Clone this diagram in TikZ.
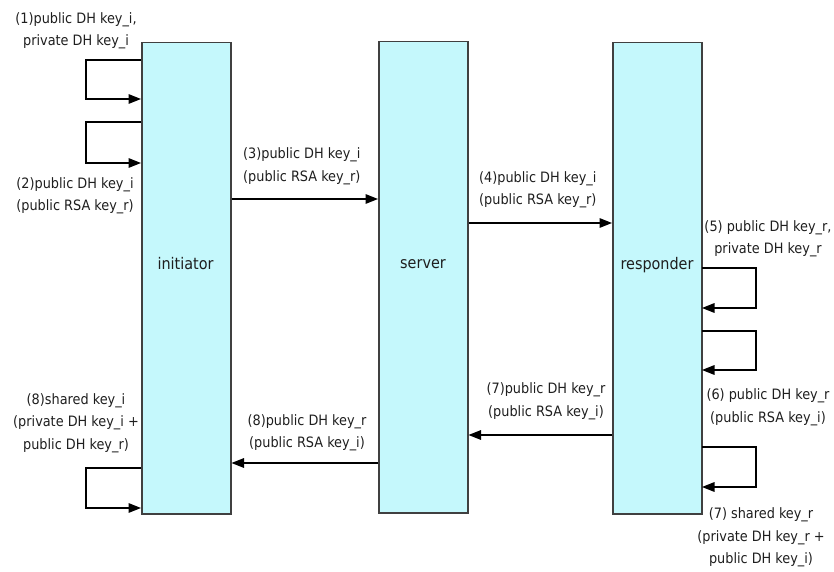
\documentclass[tikz,border=0pt]{standalone}
\usepackage{fontspec}
\setmainfont{DejaVu Sans Condensed}
\usetikzlibrary{arrows.meta}
\definecolor{boxfill}{HTML}{C5F8FC}
\definecolor{boxline}{HTML}{404040}
\definecolor{txt}{HTML}{1E1E1E}
\begin{document}
\begin{tikzpicture}[x=1pt,y=-1pt,
  actor/.style={draw=boxline,line width=1.5pt,fill=boxfill,minimum width=89pt,minimum height=471pt,inner sep=0pt,anchor=north west},
  actlbl/.style={text=txt,font=\fontsize{16}{18}\selectfont,inner sep=0pt},
  lbl/.style={font=\fontsize{14.3}{22.5}\selectfont,text=txt,align=center,inner sep=0pt},
  msg/.style={draw=black,line width=1.5pt,-{Triangle[length=12.5pt,width=9.5pt]}}]
\useasboundingbox (0,0) rectangle (834,572);
% boxes
\node[actor] (ini) at (141,42) {};
\node[actor] (srv) at (378,41) {};
\node[actor] (rsp) at (612,42) {};
\node[actlbl] (iniL) at (185.5,264) {initiator};
\node[actlbl] (srvL) at (423,264) {server};
\node[actlbl] (rspL) at (657,265) {responder};
% initiator loops
\coordinate (a1) at (141,60); \coordinate (a2) at (86,60); \coordinate (a3) at (86,99); \coordinate (a4) at (141,99);
\draw[msg] (a1) -- (a2) -- (a3) -- (a4);
\coordinate (b1) at (141,122); \coordinate (b2) at (86,122); \coordinate (b3) at (86,163); \coordinate (b4) at (141,163);
\draw[msg] (b1) -- (b2) -- (b3) -- (b4);
\coordinate (c1) at (141,468); \coordinate (c2) at (86,468); \coordinate (c3) at (86,508); \coordinate (c4) at (141,508);
\draw[msg] (c1) -- (c2) -- (c3) -- (c4);
% responder loops
\coordinate (d1) at (702,268); \coordinate (d2) at (756,268); \coordinate (d3) at (756,308); \coordinate (d4) at (702,308);
\draw[msg] (d1) -- (d2) -- (d3) -- (d4);
\coordinate (e1) at (702,331); \coordinate (e2) at (756,331); \coordinate (e3) at (756,370); \coordinate (e4) at (702,370);
\draw[msg] (e1) -- (e2) -- (e3) -- (e4);
\coordinate (f1) at (702,447); \coordinate (f2) at (756,447); \coordinate (f3) at (756,487); \coordinate (f4) at (702,487);
\draw[msg] (f1) -- (f2) -- (f3) -- (f4);
% messages
\draw[msg] (ini.east |- 0,199) -- (srv.west |- 0,199);
\draw[msg] (srv.east |- 0,223) -- (rsp.west |- 0,223);
\draw[msg] (rsp.west |- 0,435) -- (srv.east |- 0,435);
\draw[msg] (srv.west |- 0,463) -- (ini.east |- 0,463);
% labels
\node[lbl] (l1) at (76,31) {(1)public DH key\_i,\\private DH key\_i};
\node[lbl] (l2) at (75,196) {(2)public DH key\_i\\(public RSA key\_r)};
\node[lbl] (l8s) at (76,423) {(8)shared key\_i\\(private DH key\_i +\\public DH key\_r)};
\node[lbl,anchor=west,align=left] (l3) at (243,166.5) {(3)public DH key\_i\\(public RSA key\_r)};
\node[lbl,anchor=west,align=left] (l4) at (479,190) {(4)public DH key\_i\\(public RSA key\_r)};
\node[lbl] (l7p) at (546,401.5) {(7)public DH key\_r\\(public RSA key\_i)};
\node[lbl] (l8p) at (307,432.5) {(8)public DH key\_r\\(public RSA key\_i)};
\node[lbl] (l5) at (768,239) {(5) public DH key\_r,\\private DH key\_r};
\node[lbl] (l6) at (768,407) {(6) public DH key\_r\\(public RSA key\_i)};
\node[lbl] (l7s) at (761,537.5) {(7) shared key\_r\\(private DH key\_r +\\public DH key\_i)};
\end{tikzpicture}
\end{document}
